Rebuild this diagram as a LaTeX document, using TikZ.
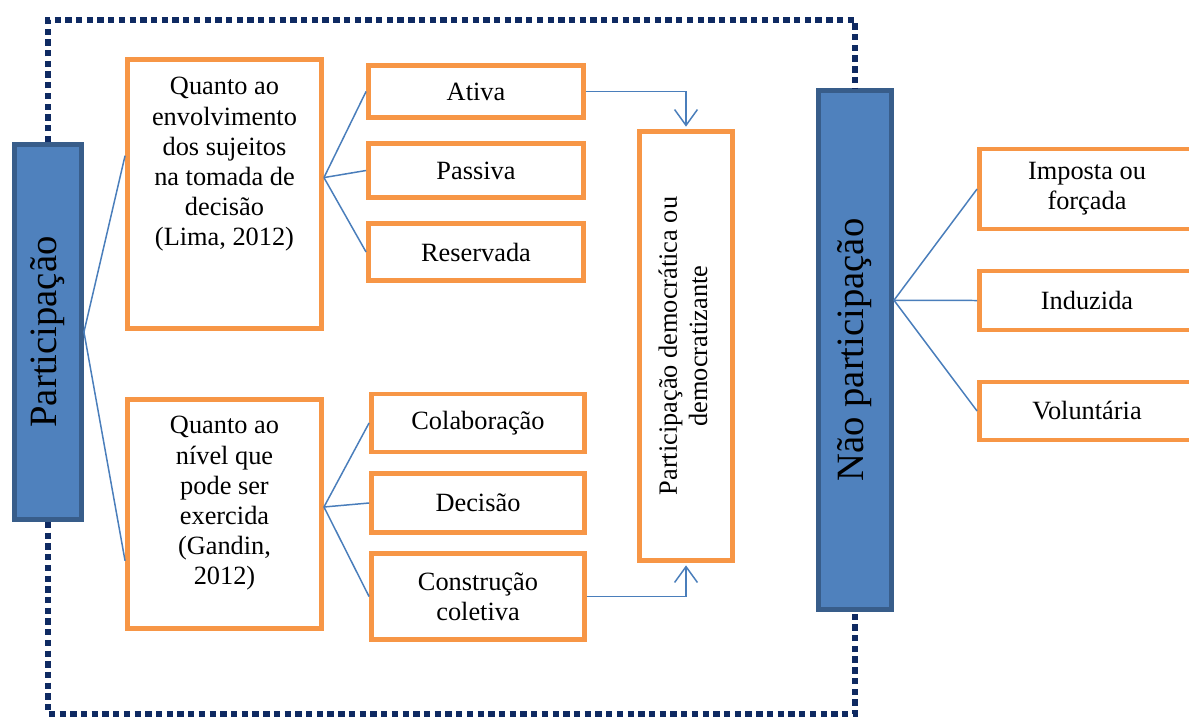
\documentclass[tikz,border=0pt]{standalone}
\usepackage{fontspec}
\setmainfont{Liberation Serif}
\usepackage{graphicx}
\usetikzlibrary{arrows.meta, calc}

\definecolor{laranja}{HTML}{F79646}
\definecolor{azulfundo}{HTML}{4F81BD}
\definecolor{azulborda}{HTML}{385D8A}
\definecolor{azullinha}{HTML}{4A7EBB}
\definecolor{marinho}{HTML}{0F2A62}

\tikzset{
  caixa/.style={draw=laranja, line width=2.8pt, fill=white, inner sep=0pt, align=center,
    font=\fontsize{15}{17.2}\selectfont},
  texto/.style={inner sep=0pt, align=center, font=\fontsize{15}{17.2}\selectfont},
  bloco/.style={draw=azulborda, fill=azulfundo, line width=2.8pt, inner sep=0pt,
    font=\fontsize{22}{25}\selectfont},
  liga/.style={draw=azullinha, line width=0.85pt},
  seta/.style={liga, shorten >=1.4pt, -{Straight Barb[length=9pt, width=13pt]}},
  borda/.style={draw=marinho, line width=3.4pt, dash pattern=on 3.6pt off 2.5pt},
}

\begin{document}
\begin{tikzpicture}[x=0.02cm, y=-0.02cm]
  \useasboundingbox (0,0) rectangle (1189,718);

  % --- BLOCOS AZUIS ---
  \node[bloco, minimum width=1.34cm, minimum height=7.5cm] (part) at (48,332)
    {\rotatebox{90}{Participação}};
  \node[bloco, minimum width=1.46cm, minimum height=10.38cm] (naop) at (855,350)
    {\rotatebox{90}{Não participação}};

  % --- CRITÉRIOS ---
  \node[caixa, minimum width=3.88cm, minimum height=5.38cm] (q1) at (224.5,194) {};
  \node[texto, anchor=north] (q1txt) at ([yshift=-0.4cm]q1.north)
    {Quanto ao\\envolvimento\\dos sujeitos\\na tomada de\\decisão\\(Lima, 2012)};
  \node[caixa, minimum width=3.88cm, minimum height=4.58cm] (q2) at (224.5,514) {};
  \node[texto, anchor=north] (q2txt) at ([yshift=-0.38cm]q2.north)
    {Quanto ao\\nível que\\pode ser\\exercida\\(Gandin,\\2012)};

  % --- TIPOS (primeiro critério) ---
  \node[caixa, minimum width=4.3cm, minimum height=1.04cm] (ativa) at (476,91.5) {Ativa};
  \node[caixa, minimum width=4.3cm, minimum height=1.08cm] (passiva) at (476,170.5) {Passiva};
  \node[caixa, minimum width=4.3cm, minimum height=1.14cm] (reserv) at (476,252) {Reservada};

  % --- TIPOS (segundo critério) ---
  \node[caixa, minimum width=4.26cm, minimum height=1.16cm] (colab) at (478,423) {Colaboração};
  \node[caixa, minimum width=4.26cm, minimum height=1.18cm] (decisao) at (478,503) {Decisão};
  \node[caixa, minimum width=4.26cm, minimum height=1.72cm] (constr) at (478,596.5)
    {Construção\\coletiva};

  % --- PARTICIPAÇÃO DEMOCRÁTICA ---
  \node[caixa, minimum width=1.86cm, minimum height=8.58cm] (pd) at (686,346)
    {\rotatebox{90}{\begin{tabular}{@{}c@{}}Participação democrática ou\\democratizante\end{tabular}}};

  % --- NÃO PARTICIPAÇÃO: TIPOS ---
  \node[caixa, minimum width=4.3cm, minimum height=1.6cm] (imposta) at (1087,189)
    {Imposta ou\\forçada};
  \node[caixa, minimum width=4.3cm, minimum height=1.18cm] (induz) at (1087,300.5) {Induzida};
  \node[caixa, minimum width=4.3cm, minimum height=1.16cm] (volunt) at (1087,411) {Voluntária};

  % --- PONTOS DE LIGAÇÃO ---
  \coordinate (e1) at ($(q1.north west)!0.36!(q1.south west)$);
  \coordinate (e2) at ($(q2.north west)!0.70!(q2.south west)$);
  \coordinate (j1) at ($(q1.north east)!0.44!(q1.south east)$);
  \coordinate (j2) at ($(q2.north east)!0.47!(q2.south east)$);
  \coordinate (j3) at ($(naop.north east)!0.405!(naop.south east)$);

  % --- LIGAÇÕES ---
  \draw[liga] (part.east) -- (e1);
  \draw[liga] (part.east) -- (e2);
  \foreach \n in {ativa, passiva, reserv}
    \draw[liga] (j1) -- (\n.west);
  \foreach \n in {colab, decisao, constr}
    \draw[liga] (j2) -- (\n.west);
  \foreach \n in {imposta, induz, volunt}
    \draw[liga] (j3) -- (\n.west);

  % setas para a participação democrática
  \draw[seta] (ativa.east) -| (pd.north);
  \draw[seta] (constr.east) -| (pd.south);

  % --- MOLDURA PONTILHADA ---
  \coordinate (topo) at (450,20);
  \coordinate (base) at (450,714);
  \draw[borda] (part.north) |- (topo) -| (naop.north);
  \draw[borda] (part.south) |- (base) -| (naop.south);

\end{tikzpicture}
\end{document}
